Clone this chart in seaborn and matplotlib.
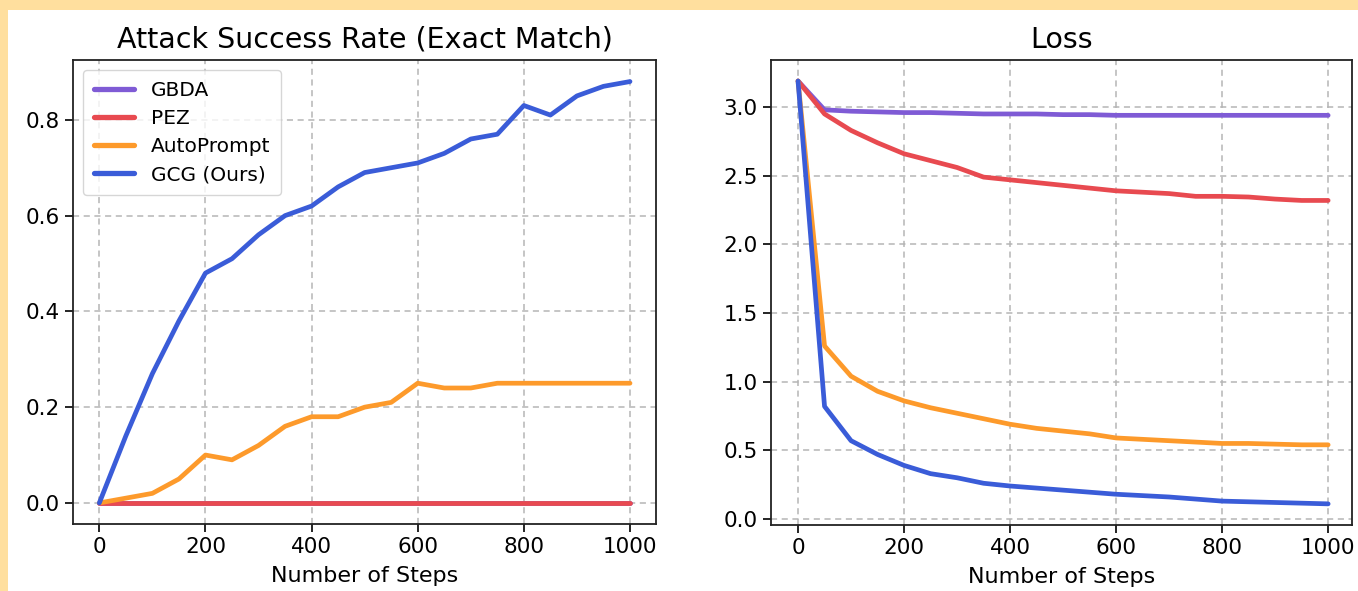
import matplotlib
matplotlib.use("Agg")
import matplotlib.pyplot as plt
from matplotlib.patches import Rectangle
import pandas as pd
import seaborn as sns

steps = list(range(0, 1001, 50))
methods = ["GBDA", "PEZ", "AutoPrompt", "GCG (Ours)"]
colors = ["#7f5bd5", "#e84a50", "#fd9a2b", "#3a5cd8"]

# attack success rate (exact match)
asr_gbda = [0.0] * 21
asr_pez = [0.0] * 21
asr_autoprompt = [0.0, 0.01, 0.02, 0.05, 0.10, 0.09, 0.12, 0.16, 0.18, 0.18, 0.20,
                  0.21, 0.25, 0.24, 0.24, 0.25, 0.25, 0.25, 0.25, 0.25, 0.25]
asr_gcg = [0.0, 0.14, 0.27, 0.38, 0.48, 0.51, 0.56, 0.60, 0.62, 0.66, 0.69,
           0.70, 0.71, 0.73, 0.76, 0.77, 0.83, 0.81, 0.85, 0.87, 0.88]

# loss
loss_gbda = [3.19, 2.98, 2.97, 2.965, 2.96, 2.96, 2.955, 2.95, 2.95, 2.95, 2.945,
             2.945, 2.94, 2.94, 2.94, 2.94, 2.94, 2.94, 2.94, 2.94, 2.94]
loss_pez = [3.19, 2.95, 2.83, 2.74, 2.66, 2.61, 2.56, 2.49, 2.47, 2.45, 2.43,
            2.41, 2.39, 2.38, 2.37, 2.35, 2.35, 2.345, 2.33, 2.32, 2.32]
loss_autoprompt = [3.19, 1.26, 1.04, 0.93, 0.86, 0.81, 0.77, 0.73, 0.69, 0.66, 0.64,
                   0.62, 0.59, 0.58, 0.57, 0.56, 0.55, 0.55, 0.545, 0.54, 0.54]
loss_gcg = [3.19, 0.82, 0.57, 0.47, 0.39, 0.33, 0.30, 0.26, 0.24, 0.225, 0.21,
            0.195, 0.18, 0.17, 0.16, 0.145, 0.13, 0.125, 0.12, 0.115, 0.11]


def long_form(series):
    rows = []
    for name, vals in zip(methods, series):
        for s, v in zip(steps, vals):
            rows.append({"step": s, "value": v, "method": name})
    return pd.DataFrame(rows)


asr_df = long_form([asr_gbda, asr_pez, asr_autoprompt, asr_gcg])
loss_df = long_form([loss_gbda, loss_pez, loss_autoprompt, loss_gcg])

sns.set_style("ticks")
plt.rcParams["font.family"] = ["DejaVu Sans"]
plt.rcParams["text.color"] = "black"
plt.rcParams["xtick.color"] = "black"
plt.rcParams["ytick.color"] = "black"
plt.rcParams["axes.labelcolor"] = "black"

W, H = 1358, 591
fig = plt.figure(figsize=(W / 100, H / 100), dpi=100, facecolor="#ffdf9e")
fig.patches.append(Rectangle((8 / W, 0), 1, 1 - 10 / H, transform=fig.transFigure,
                             facecolor="white", edgecolor="none", zorder=-10))

ax1 = fig.add_axes([73 / W, 1 - 524 / H, (656 - 73) / W, (524 - 60) / H])
ax2 = fig.add_axes([771 / W, 1 - 525 / H, (1352 - 771) / W, (525 - 60) / H])

palette = dict(zip(methods, colors))
for ax, df, title in [(ax1, asr_df, "Attack Success Rate (Exact Match)"), (ax2, loss_df, "Loss")]:
    sns.lineplot(data=df, x="step", y="value", hue="method", hue_order=methods,
                 palette=palette, linewidth=3.4, ax=ax, legend=(ax is ax1))
    ax.grid(True, linestyle=(0, (4, 3)), color="#b5b5b5", linewidth=1.1)
    ax.set_axisbelow(True)
    ax.set_title(title, fontsize=20.5, pad=9)
    ax.set_xlabel("Number of Steps", fontsize=16, labelpad=6)
    ax.set_ylabel("")
    ax.tick_params(labelsize=15.5, length=6, width=1.2, color="black")
    ax.set_xticks([0, 200, 400, 600, 800, 1000])
    for sp in ax.spines.values():
        sp.set_color("#222222")
        sp.set_linewidth(1.3)

ax1.set_xlim(-49.6, 1049)
ax1.set_ylim(-0.044, 0.925)
ax1.set_yticks([0.0, 0.2, 0.4, 0.6, 0.8])
ax2.set_xlim(-51, 1045)
ax2.set_ylim(-0.044, 3.343)
ax2.set_yticks([0.0, 0.5, 1.0, 1.5, 2.0, 2.5, 3.0])

leg = ax1.legend(loc="upper left", fontsize=14.5, handlelength=2.0, borderpad=0.55,
                 labelspacing=0.45, framealpha=0.8, borderaxespad=0.5)
leg.set_title(None)
for line in leg.get_lines():
    line.set_linewidth(3.8)

fig.savefig("out.png", dpi=100, facecolor=fig.get_facecolor())
